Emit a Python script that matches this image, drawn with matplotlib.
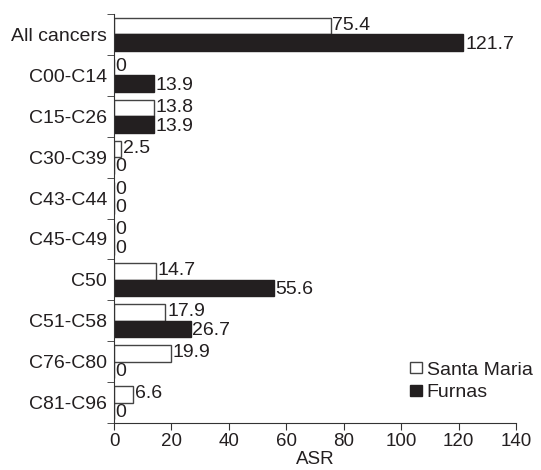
import numpy as np
import matplotlib.pyplot as plt
from matplotlib.ticker import FixedLocator

plt.rcParams['font.family'] = ['Liberation Sans', 'DejaVu Sans']

categories = ["All cancers", "C00-C14", "C15-C26", "C30-C39", "C43-C44",
              "C45-C49", "C50", "C51-C58", "C76-C80", "C81-C96"]
santa_maria = [75.4, 0, 13.8, 2.5, 0, 0, 14.7, 17.9, 19.9, 6.6]
furnas = [121.7, 13.9, 13.9, 0, 0, 0, 55.6, 26.7, 0, 0]

txt = "#231f20"
fs = 14
fig = plt.figure(figsize=(5.41, 4.70), dpi=100)
ax = fig.add_axes([114 / 541, 1 - 423 / 470, 402 / 541, 409 / 470])

n = len(categories)
y = np.arange(n)
h = 0.4
ax.barh(y - h / 2, santa_maria, height=h, color="white", edgecolor="#444444",
        linewidth=1.0, label="Santa Maria")
ax.barh(y + h / 2, furnas, height=h, color="#231f20", edgecolor="#231f20",
        linewidth=1.0, label="Furnas")

for i in range(n):
    ax.text(santa_maria[i] + 0.6, y[i] - h / 2 - 0.02, f"{santa_maria[i]:g}",
            va="center", ha="left", fontsize=fs, color=txt)
    ax.text(furnas[i] + 0.6, y[i] + h / 2 + 0.04, f"{furnas[i]:g}",
            va="center", ha="left", fontsize=fs, color=txt)

ax.set_xlim(0, 140)
ax.set_ylim(n - 0.5, -0.5)
ax.set_xticks(range(0, 141, 20))
ax.set_yticks(y)
ax.set_yticklabels(categories)
ax.yaxis.set_minor_locator(FixedLocator(np.arange(-0.5, n, 1)))
ax.tick_params(axis="y", which="major", length=0, pad=5, labelsize=fs, labelcolor=txt)
ax.tick_params(axis="y", which="minor", length=5, direction="out", color="#333333")
ax.tick_params(axis="x", length=5, direction="out", labelsize=fs - 0.5, labelcolor=txt,
               color="#333333", pad=2)
ax.set_xlabel("ASR", fontsize=fs - 0.5, color=txt, labelpad=1)
for s in ["top", "right"]:
    ax.spines[s].set_visible(False)
for s in ["left", "bottom"]:
    ax.spines[s].set_color("#333333")

ax.legend(loc="lower right", bbox_to_anchor=(1.085, 0.01), frameon=False,
          fontsize=fs, handlelength=0.6, handleheight=0.45, handletextpad=0.25,
          labelspacing=0.3, labelcolor=txt)

fig.savefig("out.png", dpi=100)
